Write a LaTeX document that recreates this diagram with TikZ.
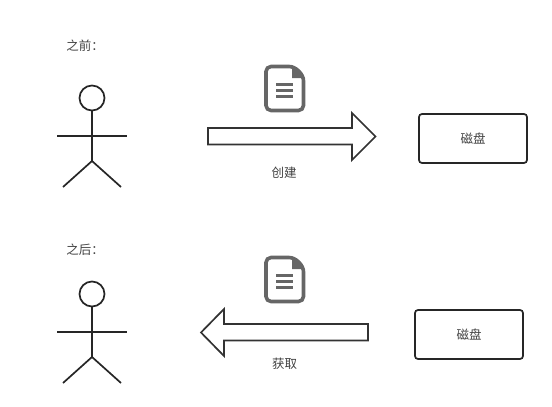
\documentclass[tikz,border=0pt]{standalone}
\usepackage{fontspec}
\setmainfont{Noto Sans CJK SC}
\usetikzlibrary{positioning}

\begin{document}
\begin{tikzpicture}[
  x=1pt, y=-1pt,
  label/.style={inner sep=0pt, font=\fontsize{12.5}{14}\selectfont, text=black!75},
  diskbox/.style={rectangle, draw=black!85, line width=1.7pt, rounded corners=3pt,
             minimum width=108pt, minimum height=49pt, inner sep=0pt,
             font=\fontsize{12.5}{14}\selectfont, text=black!75},
  person/.style={draw=black!85, line width=1.7pt},
  blockarrow/.style={draw=black!80, line width=1.7pt, fill=white, line join=miter},
  docicon/.style={draw=black!60, line width=3.6pt, rounded corners=5pt},
  docline/.style={draw=black!60, line width=2.6pt}
]
\useasboundingbox (0,0) rectangle (552,407);

% stick figures
\foreach \dy in {0,196} {
  \begin{scope}[yshift=-\dy pt]
    \draw[person] (92,98) circle (12.5pt);
    \draw[person] (92,110.5) -- (92,161);
    \draw[person] (57,136) -- (127,136);
    \draw[person] (63,187) -- (92,161) -- (121,187);
  \end{scope}
}

% document icons
\foreach \dy in {0,191} {
  \begin{scope}[yshift=-\dy pt]
    \draw[docicon] (266,66.5) -- (294,66.5) -- (303.5,76) -- (303.5,110.5) -- (266,110.5) -- cycle;
    \fill[black!60] (292,65) -- (305,78) -- (292,78) -- cycle;
    \draw[docline] (276,84.5) -- (293,84.5);
    \draw[docline] (276,90.5) -- (293,90.5);
    \draw[docline] (276,96.5) -- (293,96.5);
  \end{scope}
}

% block arrows
\draw[blockarrow] (208,128) -- (352,128) -- (352,113) -- (375.5,136.5) -- (352,160) -- (352,144.5) -- (208,144.5) -- cycle;
\draw[blockarrow] (368,324) -- (224,324) -- (224,309) -- (201,332.5) -- (224,356) -- (224,340.5) -- (368,340.5) -- cycle;

\node[label] (before) at (85,46) {之前：};
\node[label] (after) at (85,250) {之后：};
\node[label] (create) at (284,173) {创建};
\node[label] (fetch) at (284.5,363.5) {获取};
\node[diskbox] (disktop) at (473,138.5) {磁盘};
\node[diskbox] (diskbottom) at (469,334.5) {磁盘};

\end{tikzpicture}
\end{document}
